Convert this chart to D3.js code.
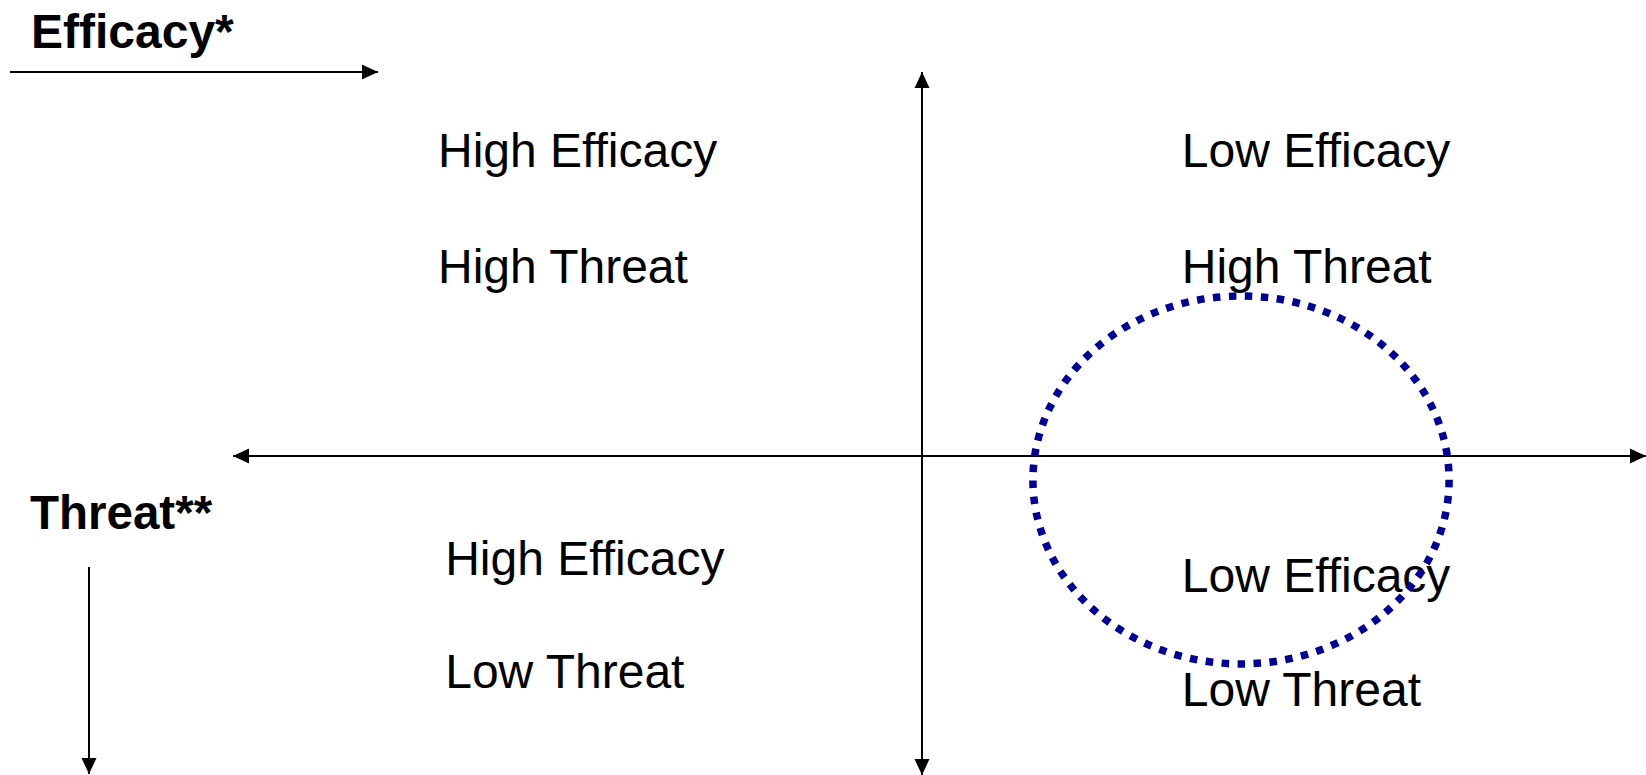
<!DOCTYPE html>
<html>
<head>
<meta charset="utf-8">
<script src="https://cdn.jsdelivr.net/npm/d3@7"></script>
<style>
  body { margin: 0; background: #fff; }
  text { font-family: "Liberation Sans", Arial, sans-serif; fill: #000; }
</style>
</head>
<body>
<div id="chart"></div>
<script>
// quadrant labels (x, y in axis units, -1..1)
const labelText = ["High Efficacy", "High Threat", "Low Efficacy", "High Threat",
                   "High Efficacy", "Low Threat", "Low Efficacy", "Low Threat"];
const labelX = [-0.7025, -0.7025, 0.377, 0.377, -0.692, -0.692, 0.377, 0.377];
const labelY = [0.753, 0.451, 0.753, 0.451, -0.310, -0.604, -0.354, -0.651];
// dotted ellipse: centre and radii in axis units
const ringCentre = [0.463, -0.0625];
const ringRadius = [0.302, 0.479];

const W = 1646, H = 775;
const svg = d3.select("#chart").append("svg")
  .attr("width", W)
  .attr("height", H);

const x = d3.scaleLinear().domain([-1, 1]).range([233, 1611]);
const y = d3.scaleLinear().domain([-1, 1]).range([840, 72]);

svg.append("defs").append("marker")
  .attr("id", "head")
  .attr("viewBox", "0 0 16 16")
  .attr("refX", 16)
  .attr("refY", 8)
  .attr("markerWidth", 16)
  .attr("markerHeight", 16)
  .attr("markerUnits", "userSpaceOnUse")
  .attr("orient", "auto")
  .append("path")
  .attr("d", "M0,0.5 L16,8 L0,15.5 Z")
  .attr("fill", "#000");

const arrow = (x1, y1, x2, y2) => svg.append("line")
  .attr("x1", x1).attr("y1", y1)
  .attr("x2", x2).attr("y2", y2)
  .attr("stroke", "#000")
  .attr("stroke-width", 2)
  .attr("marker-end", "url(#head)");

// main axes, arrows both ways
arrow(x(0), y(0), x(-1), y(0));
arrow(x(0), y(0), W, y(0));
arrow(x(0), y(0), x(0), y(1));
arrow(x(0), y(0), x(0), H);

// legend arrows
svg.append("text")
  .text("Efficacy*")
  .attr("x", 31)
  .attr("y", 48)
  .attr("font-size", 48)
  .attr("font-weight", "bold");
arrow(10, 72, 378, 72);

svg.append("text")
  .text("Threat**")
  .attr("x", 30)
  .attr("y", 529)
  .attr("font-size", 47.5)
  .attr("font-weight", "bold");
arrow(89, 567, 89, 774);

svg.selectAll("text.quad")
  .data(labelText)
  .enter()
  .append("text")
  .attr("class", "quad")
  .attr("x", (d, i) => x(labelX[i]))
  .attr("y", (d, i) => y(labelY[i]))
  .attr("font-size", 48)
  .text(d => d);

svg.append("ellipse")
  .attr("cx", x(ringCentre[0]))
  .attr("cy", y(ringCentre[1]))
  .attr("rx", x(ringRadius[0]) - x(0))
  .attr("ry", y(0) - y(ringRadius[1]))
  .attr("fill", "none")
  .attr("stroke", "#000099")
  .attr("stroke-width", 7.5)
  .attr("stroke-dasharray", "7.5 8.5");
</script>
</body>
</html>
